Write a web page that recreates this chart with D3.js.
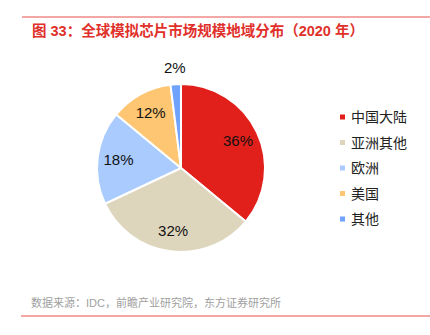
<!DOCTYPE html>
<html><head><meta charset="utf-8">
<script src="https://cdn.jsdelivr.net/npm/d3@7"></script>
<style>
html,body{margin:0;padding:0;background:#fff;}
svg{display:block;}
</style></head>
<body>
<svg id="c" width="430" height="335"></svg>
<script>
const categories = ["中国大陆", "亚洲其他", "欧洲", "美国", "其他"];
const values = [36, 32, 18, 12, 2];
const colors = ["#E2201B", "#DED5BD", "#A9CBFE", "#FEC672", "#70A3FE"];
const title = "图 33：全球模拟芯片市场规模地域分布（2020 年）";
const source = "数据来源：IDC，前瞻产业研究院，东方证券研究所";

const svg = d3.select("#c");
const font = "'Liberation Sans', Arial, 'Noto Sans CJK SC', sans-serif";

svg.append("line").attr("x1", 22).attr("x2", 430).attr("y1", 17).attr("y2", 17)
  .attr("stroke", "#E8504A").attr("stroke-width", 1);
svg.append("text").attr("x", 32).attr("y", 36).text(title)
  .attr("font-family", font).attr("font-size", 14.5).attr("font-weight", "bold").attr("fill", "#E0302B");

svg.append("line").attr("x1", 21).attr("x2", 430).attr("y1", 316).attr("y2", 316)
  .attr("stroke", "#E8504A").attr("stroke-width", 1);
svg.append("text").attr("x", 31).attr("y", 307).text(source)
  .attr("font-family", font).attr("font-size", 11).attr("fill", "#a0a0a0");

const cx = 181, cy = 168, r = 84;
const pie = d3.pie().sort(null).value(d => d)(values);
const arc = d3.arc().innerRadius(0).outerRadius(r);
const labelArc = d3.arc().innerRadius(63).outerRadius(63);
const outArc = d3.arc().innerRadius(100).outerRadius(100);

const g = svg.append("g").attr("transform", `translate(${cx},${cy})`);
g.selectAll("path").data(pie).join("path")
  .attr("d", arc).attr("fill", (d, i) => colors[i])
  .attr("stroke", "#fff").attr("stroke-width", 2).attr("stroke-linejoin", "round");

g.selectAll("text.lbl").data(pie).join("text").attr("class", "lbl")
  .attr("transform", d => {
    const p = (d.data < 5 ? outArc : labelArc).centroid(d);
    return `translate(${p[0]},${p[1]})`;
  })
  .attr("text-anchor", "middle").attr("dy", "0.35em")
  .attr("font-family", font).attr("font-size", 15).attr("fill", "#111")
  .text(d => d.data + "%");

const leg = svg.append("g");
const ly = d3.scalePoint().domain(categories).range([117, 219]);
categories.forEach((c, i) => {
  leg.append("rect").attr("x", 340).attr("y", ly(c) - 2.5).attr("width", 5).attr("height", 5).attr("fill", colors[i]);
  leg.append("text").attr("x", 351).attr("y", ly(c)).attr("dy", "0.36em").text(c)
    .attr("font-family", font).attr("font-size", 14).attr("fill", "#222");
});
</script>
</body></html>
